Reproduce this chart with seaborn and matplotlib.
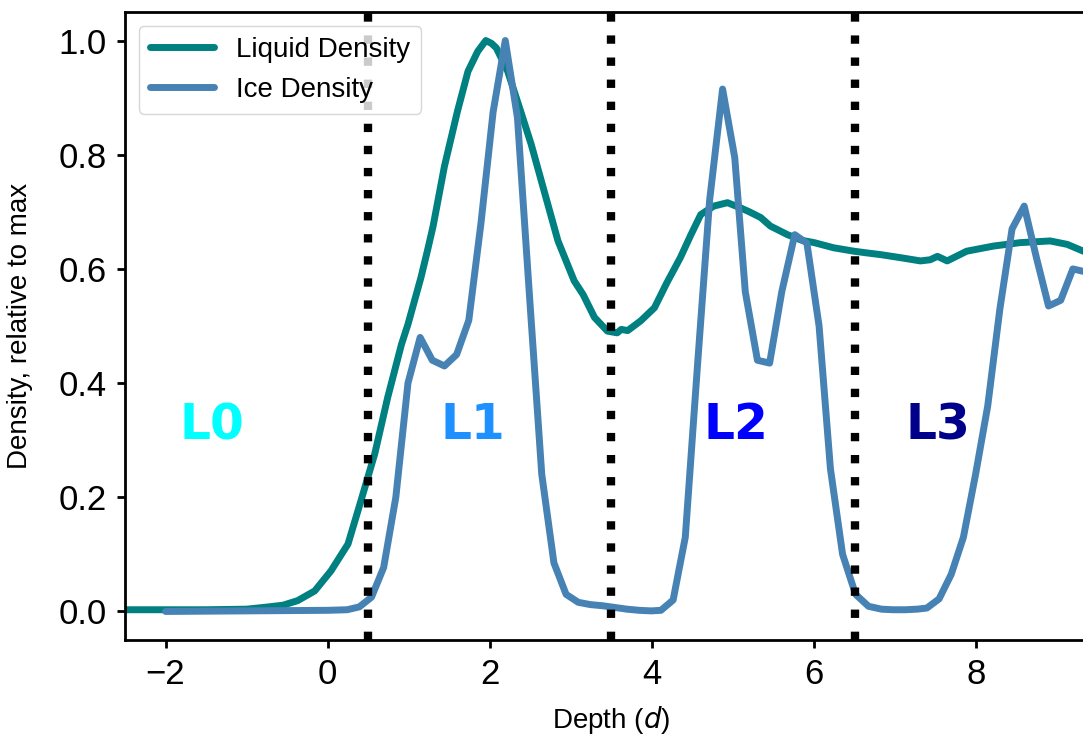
import matplotlib
matplotlib.use("Agg")
import matplotlib.pyplot as plt
import seaborn as sns
import pandas as pd

# ---- data ----
liquid_x = [-2.5, -2.0, -1.5, -1.0, -0.73, -0.55, -0.37, -0.16, 0.04, 0.25, 0.41, 0.58,
            0.74, 0.91, 0.99, 1.15, 1.23, 1.30, 1.44, 1.60, 1.73, 1.85, 1.95, 2.02, 2.08,
            2.22, 2.38, 2.51, 2.67, 2.84, 3.04, 3.15, 3.29, 3.45, 3.57, 3.62, 3.70, 3.86,
            4.03, 4.18, 4.35, 4.48, 4.60, 4.76, 4.93, 5.09, 5.20, 5.34, 5.46, 5.67, 5.85,
            6.00, 6.24, 6.49, 6.65, 6.82, 7.05, 7.31, 7.43, 7.52, 7.64, 7.88, 8.21, 8.54,
            8.91, 9.12, 9.32, 9.5]
liquid_y = [0.003, 0.003, 0.003, 0.004, 0.008, 0.011, 0.019, 0.036, 0.071, 0.118, 0.194, 0.276,
            0.375, 0.468, 0.503, 0.585, 0.632, 0.675, 0.78, 0.876, 0.946, 0.981, 1.0, 0.995, 0.987,
            0.946, 0.876, 0.818, 0.736, 0.649, 0.579, 0.555, 0.515, 0.491, 0.488, 0.494, 0.492, 0.509,
            0.532, 0.575, 0.62, 0.66, 0.695, 0.71, 0.716, 0.707, 0.70, 0.69, 0.675, 0.66, 0.65,
            0.646, 0.637, 0.631, 0.628, 0.625, 0.62, 0.614, 0.616, 0.622, 0.614, 0.631, 0.64, 0.646,
            0.649, 0.643, 0.631, 0.625]

ice_x = [-2.0, -1.0, 0.0, 0.24, 0.39, 0.54, 0.69, 0.84, 0.99, 1.14, 1.29, 1.44, 1.59, 1.74,
         1.89, 2.04, 2.19, 2.34, 2.49, 2.64, 2.79, 2.94, 3.09, 3.24, 3.39, 3.54, 3.69, 3.84,
         3.99, 4.11, 4.26, 4.41, 4.56, 4.71, 4.87, 5.02, 5.15, 5.30, 5.45, 5.60, 5.76, 5.91,
         6.06, 6.20, 6.35, 6.51, 6.67, 6.83, 6.97, 7.12, 7.27, 7.39, 7.54, 7.69, 7.84, 7.99,
         8.14, 8.29, 8.44, 8.59, 8.74, 8.89, 9.04, 9.19, 9.34, 9.5]
ice_y = [0.0, 0.001, 0.002, 0.003, 0.008, 0.025, 0.077, 0.20, 0.40, 0.48, 0.44, 0.43, 0.45, 0.51,
         0.68, 0.875, 1.0, 0.865, 0.55, 0.24, 0.085, 0.03, 0.016, 0.012, 0.010, 0.007, 0.004, 0.002,
         0.001, 0.002, 0.02, 0.13, 0.43, 0.72, 0.915, 0.795, 0.56, 0.44, 0.435, 0.56, 0.66, 0.645,
         0.50, 0.25, 0.10, 0.03, 0.009, 0.004, 0.003, 0.003, 0.004, 0.006, 0.022, 0.065, 0.13, 0.24,
         0.36, 0.53, 0.67, 0.71, 0.62, 0.535, 0.545, 0.60, 0.595, 0.59]

boundaries = [0.5, 3.5, 6.5]
layer_labels = ["L0", "L1", "L2", "L3"]
layer_x = [-1.43, 1.79, 5.03, 7.52]
layer_y = 0.326
layer_colors = ["cyan", "dodgerblue", "blue", "darkblue"]

xticks = [-2, 0, 2, 4, 6, 8]
yticks = [0.0, 0.2, 0.4, 0.6, 0.8, 1.0]

# ---- plot ----
sns.set_style("ticks")
plt.rcParams["font.family"] = ["Liberation Sans", "DejaVu Sans"]
plt.rcParams["text.color"] = "black"
plt.rcParams["axes.labelcolor"] = "black"
plt.rcParams["xtick.color"] = "black"
plt.rcParams["ytick.color"] = "black"

fig = plt.figure(figsize=(10.83, 7.35), dpi=100)
ax = fig.add_axes([125 / 1083, 95 / 735, 973 / 1083, 628 / 735])

liq_df = pd.DataFrame({"x": liquid_x, "y": liquid_y})
ice_df = pd.DataFrame({"x": ice_x, "y": ice_y})

sns.lineplot(data=liq_df, x="x", y="y", color="teal", lw=5, sort=False,
             estimator=None, label="Liquid Density", ax=ax, zorder=2)
sns.lineplot(data=ice_df, x="x", y="y", color="steelblue", lw=5, sort=False,
             estimator=None, label="Ice Density", ax=ax, zorder=3)

for b in boundaries:
    ax.axvline(b, color="black", ls=":", lw=6, zorder=4)

for lab, lx, c in zip(layer_labels, layer_x, layer_colors):
    ax.text(lx, layer_y, lab, color=c, fontsize=35, fontweight="heavy",
            family=["DejaVu Sans"], ha="center", va="center", zorder=5)

ax.set_xlim(-2.5, 9.5)
ax.set_ylim(-0.05, 1.05)
ax.set_xticks(xticks)
ax.set_yticks(yticks)
ax.set_xticklabels([f"{t:d}".replace("-", "\u2212") for t in xticks])
ax.set_yticklabels([f"{t:.1f}" for t in yticks])
ax.tick_params(axis="both", labelsize=25, length=6, width=2, direction="out", pad=7,
               colors="black")
for s in ax.spines.values():
    s.set_linewidth(2)
    s.set_color("black")

ax.set_xlabel("Depth ($d$)", fontsize=20, color="black", labelpad=9)
ax.set_ylabel("Density, relative to max", fontsize=20, color="black")
ax.yaxis.set_label_coords(-0.095, 0.5)

leg = ax.legend(loc="upper left", fontsize=20, frameon=True, handlelength=2.3)
for t in leg.get_texts():
    t.set_color("black")
leg.set_zorder(10)

fig.savefig("out.png", dpi=100)
